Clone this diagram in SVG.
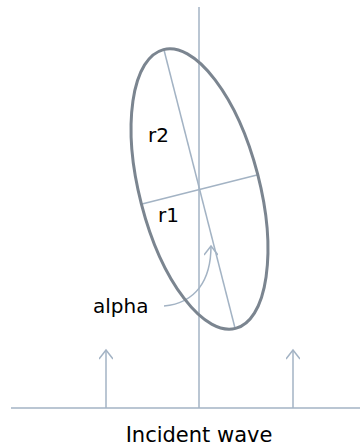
<svg xmlns="http://www.w3.org/2000/svg" width="360" height="448" viewBox="0 0 360 448">
<style>
.ax{stroke:#a3b3c4;stroke-width:1.5;fill:none}
.el{stroke:#7b8590;stroke-width:3;fill:none}
.t{font-family:"DejaVu Sans",Verdana,sans-serif;font-size:20px;fill:#000}
</style>
<defs>
<marker id="ah" viewBox="0 0 12 14" refX="10" refY="7" markerWidth="12" markerHeight="14" markerUnits="userSpaceOnUse" orient="auto">
<path d="M1,0 L10,7 L1,14" fill="none" stroke="#a3b3c4" stroke-width="1.5"/>
</marker>
</defs>
<g id="connectors">
<line class="ax" x1="199" y1="7" x2="199" y2="408"/>
<line class="ax" x1="11" y1="408" x2="360" y2="408"/>
<line class="ax" x1="106" y1="408" x2="106" y2="350" marker-end="url(#ah)"/>
<line class="ax" x1="293" y1="408" x2="293" y2="350" marker-end="url(#ah)"/>
<line class="ax" x1="164" y1="50" x2="235" y2="328"/>
<line class="ax" x1="142" y1="204" x2="257" y2="175"/>
<path class="ax" d="M164,306 C196,303 211,280 211,246" marker-end="url(#ah)"/>
</g>
<g id="ellipse">
<ellipse class="el" cx="199.5" cy="189" rx="60" ry="144" transform="rotate(-14.5 199.5 189)"/>
</g>
<g id="labels">
<text class="t" x="148" y="142">r2</text>
<text class="t" x="158" y="222">r1</text>
<text class="t" x="93" y="313">alpha</text>
<text class="t" x="199" y="442" text-anchor="middle" style="font-size:21px">Incident wave</text>
</g>
</svg>
